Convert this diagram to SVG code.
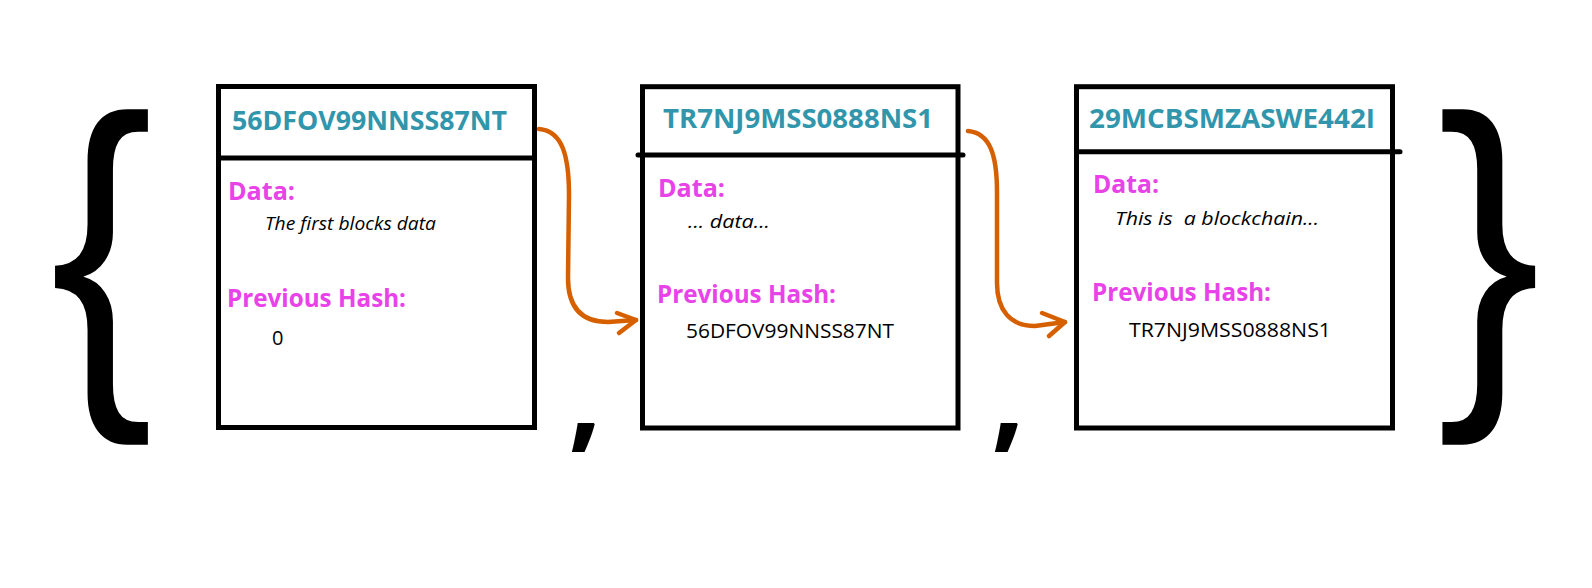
<svg xmlns="http://www.w3.org/2000/svg" width="1592" height="588" viewBox="0 0 1592 588">
<style>
  .box { fill: #ffffff; stroke: #000000; stroke-width: 5; }
  .div { stroke: #000000; stroke-width: 5; stroke-linecap: round; }
  .title { font-family: "Open Sans", "Noto Sans", "DejaVu Sans", sans-serif; font-weight: bold; font-size: 27px; fill: #3196AC; }
  .lbl { font-family: "Open Sans", "Noto Sans", "DejaVu Sans", sans-serif; font-weight: bold; font-size: 25px; fill: #E842E8; }
  .data { font-family: "Open Sans", "Noto Sans", "DejaVu Sans", sans-serif; font-style: italic; font-size: 18px; fill: #000000; white-space: pre; }
  .hash { font-family: "Open Sans", "Noto Sans", "DejaVu Sans", sans-serif; font-size: 20px; fill: #000000; }
  .conn { fill: none; stroke: #D65F00; stroke-width: 4.5; stroke-linecap: round; stroke-linejoin: round; }
  .brace { font-family: "Liberation Sans", Arial, sans-serif; font-weight: normal; font-size: 360px; fill: #000000; }
  .comma { font-family: "Open Sans", "Noto Sans", "DejaVu Sans", sans-serif; font-weight: bold; fill: #000000; }
</style>
<rect x="0" y="0" width="1592" height="588" fill="#ffffff"/>

<g id="syntax">
  <text class="brace" transform="translate(101.6,0) scale(0.86,1)" x="0" y="370" text-anchor="middle">{</text>
  <text class="brace" transform="translate(1489,0) scale(0.86,1)" x="0" y="370" text-anchor="middle">}</text>
  <text class="comma" x="585" y="437" font-size="118" text-anchor="middle">,</text>
  <text class="comma" x="1008" y="437" font-size="118" text-anchor="middle">,</text>
</g>

<g id="block1">
  <rect class="box" x="218.5" y="86.5" width="316" height="341"/>
  <line class="div" x1="218.5" y1="158" x2="534.5" y2="158"/>
  <text class="title" x="232" y="130" textLength="275" lengthAdjust="spacingAndGlyphs">56DFOV99NNSS87NT</text>
  <text class="lbl" x="228" y="200" textLength="67" lengthAdjust="spacingAndGlyphs">Data:</text>
  <text class="data" x="265" y="230" textLength="171" lengthAdjust="spacingAndGlyphs">The first blocks data</text>
  <text class="lbl" x="227" y="307" textLength="179" lengthAdjust="spacingAndGlyphs">Previous Hash:</text>
  <text class="hash" x="272" y="345" font-size="22">0</text>
</g>

<g id="block2">
  <rect class="box" x="642.5" y="86.7" width="315.5" height="341.3"/>
  <line class="div" x1="638" y1="155" x2="963" y2="155"/>
  <text class="title" x="663" y="128" textLength="270" lengthAdjust="spacingAndGlyphs">TR7NJ9MSS0888NS1</text>
  <text class="lbl" x="658" y="197" textLength="67" lengthAdjust="spacingAndGlyphs">Data:</text>
  <text class="data" x="688" y="228" textLength="82" lengthAdjust="spacingAndGlyphs">... data...</text>
  <text class="lbl" x="657" y="303" textLength="179" lengthAdjust="spacingAndGlyphs">Previous Hash:</text>
  <text class="hash" x="686" y="338" textLength="208" lengthAdjust="spacingAndGlyphs">56DFOV99NNSS87NT</text>
</g>

<g id="block3">
  <rect class="box" x="1076.5" y="86.7" width="316" height="341.3"/>
  <line class="div" x1="1076.5" y1="151.7" x2="1400" y2="151.7"/>
  <text class="title" x="1089" y="128" textLength="286" lengthAdjust="spacingAndGlyphs">29MCBSMZASWE442I</text>
  <text class="lbl" x="1093" y="193" textLength="66" lengthAdjust="spacingAndGlyphs">Data:</text>
  <text class="data" x="1115" y="225" textLength="204" lengthAdjust="spacingAndGlyphs">This is  a blockchain...</text>
  <text class="lbl" x="1092" y="300.5" textLength="179" lengthAdjust="spacingAndGlyphs">Previous Hash:</text>
  <text class="hash" x="1129" y="336.7" textLength="202" lengthAdjust="spacingAndGlyphs">TR7NJ9MSS0888NS1</text>
</g>

<g id="connectors">
  <path class="conn" d="M539,129 C562,131 569,155 569,195 L568,278 C568,308 582,322 608,322 L636,320"/>
  <path class="conn" d="M617,313 L636,320 L619,333"/>
  <path class="conn" d="M968,131 C990,133 997,155 997,192 L997,283 C997,310 1010,326 1035,326 L1065,322"/>
  <path class="conn" d="M1042,313 L1065,322 L1049,336"/>
</g>
</svg>
